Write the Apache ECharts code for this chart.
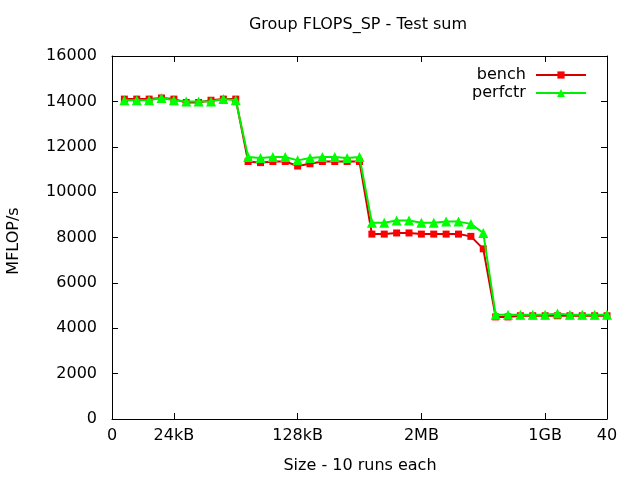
<!DOCTYPE html>
<html>
<head>
<meta charset="utf-8">
<script src="https://cdn.jsdelivr.net/npm/echarts@6/dist/echarts.min.js"></script>
<style>html,body{margin:0;padding:0;background:#fff;}#c{width:640px;height:480px;}</style>
</head>
<body>
<div id="c"></div>
<script>
const titleText = 'Group FLOPS_SP - Test sum';
const xName = 'Size - 10 runs each';
const yName = 'MFLOP/s';
const xs = [1,2,3,4,5,6,7,8,9,10,11,12,13,14,15,16,17,18,19,20,21,22,23,24,25,26,27,28,29,30,31,32,33,34,35,36,37,38,39,40];
const bench = [14100,14100,14100,14150,14100,13950,13950,14050,14100,14100,
               11350,11300,11350,11350,11150,11250,11350,11350,11350,11350,
               8150,8150,8200,8200,8150,8150,8150,8150,8050,7500,
               4500,4500,4550,4550,4550,4550,4550,4550,4550,4550];
const perfctr = [14050,14050,14050,14150,14050,14000,14000,14000,14100,14050,
                 11550,11500,11550,11550,11400,11500,11550,11550,11500,11550,
                 8650,8650,8750,8750,8650,8650,8700,8700,8600,8200,
                 4600,4600,4600,4600,4600,4650,4600,4600,4600,4600];
const xTickValues = [0,5,15,25,35,40];
const xTickLabels = ['0','24kB','128kB','2MB','1GB','40'];
const seriesNames = ['bench','perfctr'];

const FONT = 'DejaVu Sans';
const FS = 16;
const chart = echarts.init(document.getElementById('c'), null, {renderer:'canvas'});
const pairs = (ys) => xs.map((x,i) => [x, ys[i]]);
const lbl = (v) => { const i = xTickValues.indexOf(v); return i >= 0 ? xTickLabels[i] : ''; };

const axisLine = {show:true, onZero:false, lineStyle:{color:'#000', width:1}};
const tick = {show:true, inside:true, length:6, lineStyle:{color:'#000'}};
const option = {
  animation:false,
  backgroundColor:'#fff',
  grid:{left:112, right:33, top:56, bottom:61, containLabel:false},
  xAxis:[
    {type:'value', min:0, max:40, position:'bottom',
     axisLine:axisLine,
     axisTick:Object.assign({customValues:xTickValues}, tick),
     axisLabel:{customValues:xTickValues, formatter:lbl, color:'#000', fontFamily:FONT, fontSize:FS, margin:9},
     splitLine:{show:false}},
    {type:'value', min:0, max:40, position:'top',
     axisLine:axisLine,
     axisTick:Object.assign({customValues:xTickValues}, tick),
     axisLabel:{show:false}, splitLine:{show:false}}
  ],
  yAxis:[
    {type:'value', min:0, max:16000, interval:2000, position:'left',
     axisLine:axisLine, axisTick:tick,
     axisLabel:{formatter:(v)=>String(v), color:'#000', fontFamily:FONT, fontSize:FS, margin:15},
     splitLine:{show:false}},
    {type:'value', min:0, max:16000, interval:2000, position:'right',
     axisLine:axisLine, axisTick:tick,
     axisLabel:{show:false}, splitLine:{show:false}}
  ],
  legend:[
    {data:[seriesNames[0]], right:48, top:62, orient:'vertical', align:'right', itemWidth:50, itemHeight:9,
     formatter:(n)=>n+' ', textStyle:{color:'#000', fontFamily:FONT, fontSize:FS}},
    {data:[seriesNames[1]], right:48, top:80, orient:'vertical', align:'right', itemWidth:50, itemHeight:10,
     formatter:(n)=>n+' ', textStyle:{color:'#000', fontFamily:FONT, fontSize:FS}}
  ],
  series:[
    {name:seriesNames[0], type:'line', data:pairs(bench), xAxisIndex:0, yAxisIndex:0,
     symbol:'rect', symbolSize:7, showAllSymbol:true,
     itemStyle:{color:'#ff0000'}, lineStyle:{color:'#d40000', width:2}, z:2},
    {name:seriesNames[1], type:'line', data:pairs(perfctr), xAxisIndex:0, yAxisIndex:0,
     symbol:'triangle', symbolSize:10, showAllSymbol:true,
     itemStyle:{color:'#00ff00'}, lineStyle:{color:'#00ee00', width:2}, z:3}
  ],
  graphic:[
    {type:'text', x:358, y:25, style:{text:titleText, fill:'#000', font:FS+'px "DejaVu Sans"', textAlign:'center', textVerticalAlign:'middle'}},
    {type:'text', x:360, y:466, style:{text:xName, fill:'#000', font:FS+'px "DejaVu Sans"', textAlign:'center', textVerticalAlign:'middle'}},
    {type:'text', x:14, y:241, rotation:Math.PI/2, style:{text:yName, fill:'#000', font:FS+'px "DejaVu Sans"', textAlign:'center', textVerticalAlign:'middle'}}
  ]
};
chart.setOption(option);
</script>
</body>
</html>
